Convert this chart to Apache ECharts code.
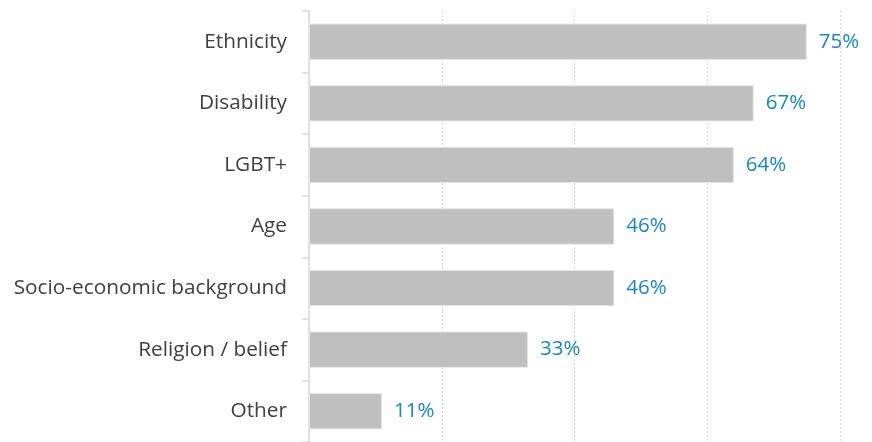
<!DOCTYPE html>
<html>
<head>
<meta charset="utf-8">
<script src="https://cdn.jsdelivr.net/npm/echarts@6/dist/echarts.min.js"></script>
<style>
  html, body { margin: 0; padding: 0; background: #ffffff; }
  #chart { width: 872px; height: 442px; }
</style>
</head>
<body>
<div id="chart"></div>
<script>
// Categories listed top to bottom
const categories = ['Ethnicity', 'Disability', 'LGBT+', 'Age', 'Socio-economic background', 'Religion / belief', 'Other'];
// Share of respondents, percent
const values = [75, 67, 64, 46, 46, 33, 11];
const axisMax = 80;
const axisStep = 20;

const chart = echarts.init(document.getElementById('chart'));
chart.setOption({
  animation: false,
  backgroundColor: '#ffffff',
  grid: { left: 309, right: 32, top: 11, height: 437, containLabel: false },
  xAxis: {
    type: 'value',
    min: 0,
    max: axisMax,
    interval: axisStep,
    axisLabel: { show: false },
    axisLine: { show: false },
    axisTick: { show: false },
    splitLine: { show: true, lineStyle: { color: '#d9d9d9', type: [2, 2], width: 1 } }
  },
  yAxis: {
    type: 'category',
    inverse: true,
    data: categories,
    axisLine: { show: true, lineStyle: { color: '#d9d9d9', width: 1.5 } },
    axisTick: { show: true, length: 7, lineStyle: { color: '#d9d9d9', width: 1.5 } },
    axisLabel: {
      margin: 22,
      color: '#404040',
      fontSize: 20.8,
      fontFamily: 'Open Sans'
    }
  },
  series: [{
    type: 'bar',
    data: values,
    barCategoryGap: '41%',
    itemStyle: { color: '#bfbfbf', borderColor: '#e6e6e6', borderWidth: 1 },
    label: {
      show: true,
      position: 'right',
      distance: 12,
      formatter: '{c}%',
      color: '#1a86c0',
      fontSize: 20.5,
      fontFamily: 'Open Sans'
    }
  }]
});
</script>
</body>
</html>
